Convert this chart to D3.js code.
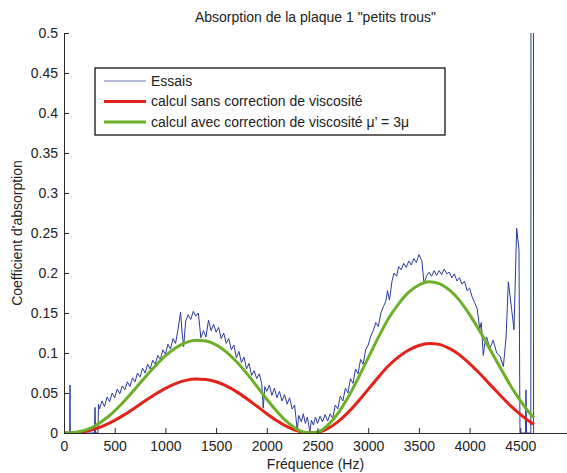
<!DOCTYPE html>
<html>
<head>
<meta charset="utf-8">
<script src="https://cdn.jsdelivr.net/npm/d3@7/dist/d3.min.js"></script>
<style>
  body { margin: 0; background: #fff; }
  text { font-family: "Liberation Sans", Arial, Helvetica, sans-serif; fill: #222; }
</style>
</head>
<body>
<div id="chart"></div>
<script>
// measured absorption : [frequency (Hz), coefficient]
var essais = [
  [0, 0], [40, 0], [56, 0], [59, 0.06], [62, 0], [150, 0], [250, 0], [300, 0],
  [306, 0.032], [312, 0], [335, 0], [340, 0.036], [350, 0.030],
  [375, 0.040], [400, 0.033], [425, 0.045], [450, 0.039], [475, 0.050], [500, 0.044],
  [525, 0.055], [550, 0.049], [575, 0.059], [600, 0.054], [625, 0.064], [650, 0.058],
  [675, 0.069], [700, 0.064], [725, 0.075], [750, 0.070], [775, 0.081], [800, 0.075],
  [825, 0.086], [850, 0.080], [875, 0.091], [900, 0.086], [925, 0.097], [950, 0.092],
  [975, 0.104], [1000, 0.098], [1025, 0.111], [1050, 0.105], [1075, 0.118], [1100, 0.112],
  [1125, 0.130], [1150, 0.151], [1165, 0.125], [1180, 0.108], [1200, 0.140], [1225, 0.148],
  [1250, 0.142], [1275, 0.152], [1300, 0.146], [1325, 0.150], [1350, 0.119], [1375, 0.128],
  [1400, 0.120], [1425, 0.141], [1450, 0.128], [1475, 0.136], [1500, 0.126], [1525, 0.132],
  [1550, 0.118], [1575, 0.125], [1600, 0.112], [1625, 0.118], [1650, 0.104], [1675, 0.110],
  [1700, 0.094], [1725, 0.102], [1750, 0.088], [1775, 0.095], [1800, 0.080], [1825, 0.087],
  [1850, 0.072], [1875, 0.078], [1900, 0.068], [1925, 0.074], [1950, 0.062], [1965, 0.031],
  [1980, 0.058], [2000, 0.052], [2025, 0.060], [2050, 0.047], [2075, 0.056], [2100, 0.044],
  [2125, 0.052], [2150, 0.040], [2175, 0.048], [2200, 0.036], [2225, 0.044], [2250, 0.030],
  [2275, 0.035], [2300, 0.003], [2315, 0.022], [2340, 0.014], [2360, 0.024], [2380, 0.012],
  [2400, 0.020], [2425, 0.001], [2440, 0.016], [2460, 0.010], [2480, 0.020], [2500, 0.012],
  [2525, 0.021], [2550, 0.014], [2575, 0.023], [2600, 0.015], [2625, 0.024], [2650, 0.018],
  [2675, 0.035], [2700, 0.030], [2725, 0.046], [2750, 0.040], [2775, 0.056], [2800, 0.050],
  [2825, 0.068], [2850, 0.062], [2875, 0.080], [2900, 0.074], [2925, 0.092], [2950, 0.086],
  [2975, 0.104], [3000, 0.110], [3025, 0.121], [3050, 0.128], [3075, 0.138], [3100, 0.133],
  [3125, 0.150], [3150, 0.158], [3175, 0.165], [3190, 0.178], [3210, 0.166], [3235, 0.190],
  [3255, 0.200], [3280, 0.196], [3300, 0.208], [3325, 0.204], [3350, 0.212], [3375, 0.207],
  [3400, 0.215], [3425, 0.210], [3450, 0.218], [3475, 0.213], [3500, 0.223], [3515, 0.219],
  [3530, 0.215], [3550, 0.187], [3575, 0.196], [3600, 0.201], [3625, 0.196], [3650, 0.203],
  [3675, 0.197], [3700, 0.203], [3725, 0.198], [3750, 0.205], [3775, 0.199], [3800, 0.201],
  [3825, 0.194], [3850, 0.199], [3875, 0.190], [3900, 0.194], [3925, 0.186], [3950, 0.190],
  [3975, 0.178], [4000, 0.181], [4025, 0.170], [4050, 0.163], [4075, 0.155], [4100, 0.130],
  [4115, 0.138], [4135, 0.097], [4150, 0.112], [4168, 0.120], [4200, 0.106], [4233, 0.116],
  [4267, 0.100], [4300, 0.096], [4333, 0.083], [4360, 0.120], [4382, 0.189], [4415, 0.154],
  [4438, 0.129], [4464, 0.256], [4487, 0.229], [4497, 0], [4550, 0], [4556, 0.054],
  [4562, 0], [4604, 0], [4606, 0.9], [4629, 0.9], [4631, 0]
];

// computed curves, same frequencies for both
var freqCalc = [0, 100, 200, 300, 400, 500, 600, 700, 800, 900, 1000, 1100, 1200, 1300,
  1400, 1500, 1600, 1700, 1800, 1900, 2000, 2100, 2200, 2300, 2400, 2500, 2600, 2700,
  2800, 2900, 3000, 3100, 3200, 3300, 3400, 3500, 3600, 3700, 3800, 3900, 4000, 4100,
  4200, 4300, 4400, 4500, 4600, 4635];
var sansCorrection = [0, 0.0003, 0.0018, 0.0049, 0.0096, 0.0158, 0.0233, 0.0316, 0.0402,
  0.0484, 0.0558, 0.0617, 0.0658, 0.0676, 0.0670, 0.0641, 0.0589, 0.0517, 0.0431, 0.0337,
  0.0241, 0.0153, 0.0079, 0.0026, 0.0001, 0.0008, 0.0054, 0.0139, 0.0254, 0.0393, 0.0545,
  0.0697, 0.0840, 0.0951, 0.1037, 0.1094, 0.1120, 0.1108, 0.1057, 0.0977, 0.0868, 0.0744,
  0.0608, 0.0475, 0.0345, 0.0232, 0.0136, 0.0109];
var avecCorrection = [0, 0.0006, 0.0032, 0.0085, 0.0168, 0.0277, 0.0407, 0.0550, 0.0698,
  0.0838, 0.0963, 0.1062, 0.1130, 0.1160, 0.1151, 0.1101, 0.1014, 0.0893, 0.0748, 0.0587,
  0.0422, 0.0269, 0.0138, 0.0046, 0.0003, 0.0014, 0.0096, 0.0242, 0.0443, 0.0681, 0.0939,
  0.1195, 0.1432, 0.1615, 0.1760, 0.1850, 0.1890, 0.1868, 0.1788, 0.1658, 0.1480, 0.1274,
  0.1046, 0.0822, 0.0600, 0.0405, 0.0238, 0.0192];

var xTicks = [0, 500, 1000, 1500, 2000, 2500, 3000, 3500, 4000, 4500];
var yTicks = [0, 0.05, 0.1, 0.15, 0.2, 0.25, 0.3, 0.35, 0.4, 0.45, 0.5];
var legendLabels = ["Essais", "calcul sans correction de viscosit\u00e9",
  "calcul avec correction de viscosit\u00e9 \u03bc\u2019 = 3\u03bc"];
var colors = ["#2b3a9c", "#e2231a", "#6cb02a"];

var W = 567, H = 473;
var margin = {top: 33, left: 64};
var plotW = 507, plotH = 400;
var fontSize = "14px";

var x = d3.scaleLinear().domain([0, 5000]).range([margin.left, margin.left + plotW]);
var y = d3.scaleLinear().domain([0, 0.5]).range([margin.top + plotH, margin.top]);

var svg = d3.select("#chart").append("svg")
  .attr("width", W)
  .attr("height", H);

svg.append("clipPath").attr("id", "clipper")
  .append("rect")
  .attr("x", margin.left).attr("y", margin.top)
  .attr("width", plotW).attr("height", plotH);

var plot = svg.append("g").attr("clip-path", "url(#clipper)");

//measured line
var essaisLine = d3.line()
  .x(function(d) { return x(d[0]); })
  .y(function(d) { return y(d[1]); });

plot.append("path")
  .datum(essais)
  .attr("fill", "none")
  .attr("stroke", colors[0])
  .attr("stroke-width", 1)
  .attr("d", essaisLine);

// computed lines
var calcLine = d3.line()
  .curve(d3.curveMonotoneX)
  .x(function(d, i) { return x(freqCalc[i]); })
  .y(function(d) { return y(d); });

[sansCorrection, avecCorrection].forEach(function(serie, k) {
  plot.append("path")
    .datum(serie)
    .attr("fill", "none")
    .attr("stroke", colors[k + 1])
    .attr("stroke-width", 3)
    .attr("stroke-linejoin", "round")
    .attr("d", calcLine);
});

// axes (ticks inside like matlab)
var xAxis = svg.append("g")
  .attr("transform", "translate(0," + (margin.top + plotH) + ")")
  .call(d3.axisBottom(x).tickValues(xTicks).tickSizeInner(-5).tickSizeOuter(0)
    .tickPadding(8).tickFormat(d3.format("d")));

var yAxis = svg.append("g")
  .attr("transform", "translate(" + margin.left + ",0)")
  .call(d3.axisLeft(y).tickValues(yTicks).tickSizeInner(-5).tickSizeOuter(0)
    .tickPadding(6).tickFormat(function(d) { return d3.format("")(+d.toFixed(2)); }));

svg.selectAll(".domain, .tick line").attr("stroke", "#2a2a2a");
svg.selectAll(".tick text")
  .style("font-size", fontSize)
  .attr("fill", "#222")
  .style("font-family", "'Liberation Sans', Arial, sans-serif");

// title and labels
svg.append("text")
  .attr("x", margin.left + plotW / 2 - 2)
  .attr("y", 21.5)
  .attr("text-anchor", "middle")
  .style("font-size", fontSize)
  .text("Absorption de la plaque 1 \"petits trous\"");

svg.append("text")
  .attr("x", margin.left + plotW / 2 - 2)
  .attr("y", 469)
  .attr("text-anchor", "middle")
  .style("font-size", fontSize)
  .text("Fr\u00e9quence (Hz)");

svg.append("text")
  .attr("transform", "translate(22," + (margin.top + plotH / 2) + ") rotate(-90)")
  .attr("text-anchor", "middle")
  .style("font-size", fontSize)
  .text("Coefficient d'absorption");

//legend box
var legend = svg.append("g").attr("transform", "translate(95,68)");
legend.append("rect")
  .attr("width", 350)
  .attr("height", 67)
  .attr("fill", "#fff")
  .attr("stroke", "#111")
  .attr("stroke-width", 1.3);

var rows = legend.selectAll("g.row")
  .data(legendLabels)
  .enter().append("g")
  .attr("class", "row")
  .attr("transform", function(d, i) { return "translate(0," + (13 + i * 20.5) + ")"; });

rows.append("line")
  .attr("x1", 9).attr("x2", 51)
  .attr("stroke", function(d, i) { return colors[i]; })
  .attr("stroke-width", function(d, i) { return i == 0 ? 1 : 3; })
  .attr("stroke-opacity", function(d, i) { return i == 0 ? 0.7 : 1; });

rows.append("text")
  .attr("x", 56)
  .attr("dy", "0.35em")
  .style("font-size", fontSize)
  .text(function(d) { return d; });
</script>
</body>
</html>
